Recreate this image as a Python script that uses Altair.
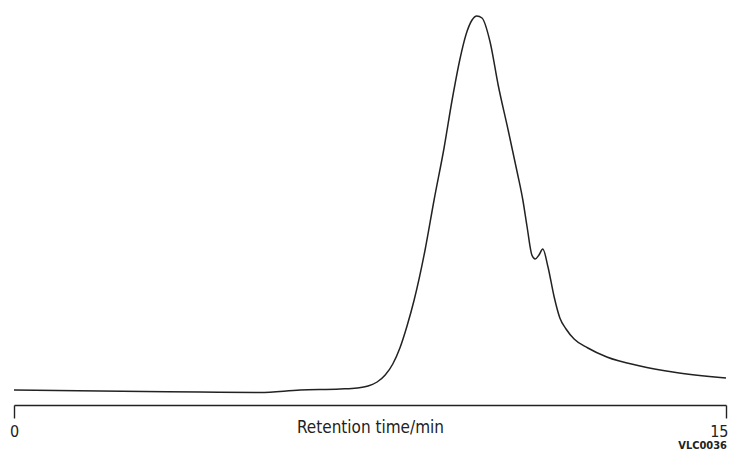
import altair as alt
import pandas as pd

# Retention time (min) and detector signal (arbitrary units)
time_min = [0.0, 1.81, 3.92, 5.18, 6.03, 6.87, 7.23, 7.46, 7.65, 7.82, 7.98, 8.13,
            8.28, 8.43, 8.66, 8.85, 9.06, 9.23, 9.40, 9.52, 9.65, 9.75, 9.86, 10.03,
            10.20, 10.41, 10.60, 10.72, 10.81, 10.91, 10.98, 11.06, 11.14, 11.25,
            11.38, 11.50, 11.63, 11.80, 12.09, 12.49, 13.19, 13.88, 15.0]
signal = [15, 14, 13, 12.5, 15, 16, 17, 19, 23, 30, 41, 57,
          79, 105, 155, 205, 257, 305, 347, 370, 385, 389, 387, 363,
          320, 275, 233, 205, 178, 150, 146, 150, 156, 138,
          108, 87, 76, 66, 57, 48, 39, 33, 27]

x_ticks = [0, 15]
x_title = "Retention time/min"
code_label = "VLC0036"

W, H = 712, 397
FONT = "'DejaVu Sans Condensed', 'Liberation Sans Narrow', Roboto, sans-serif"

df = pd.DataFrame({"t": time_min, "s": signal})

line = alt.Chart(df).mark_line(
    color="#222222", strokeWidth=1.5, interpolate="monotone"
).encode(
    x=alt.X("t:Q", scale=alt.Scale(domain=[0, 15], nice=False, zero=False),
            axis=alt.Axis(values=x_ticks, title=x_title, grid=False,
                          tickSize=13, tickWidth=1.4, tickColor="#222222",
                          domainColor="#222222", domainWidth=1.4,
                          labelFont=FONT, labelFontSize=16, labelColor="#222222",
                          labelPadding=5, labelFlush=False,
                          labelAlign=alt.condition("datum.value == 15",
                                                   alt.value("right"),
                                                   alt.value("center")),
                          labelOffset=alt.condition("datum.value == 15",
                                                    alt.value(2),
                                                    alt.value(0)),
                          titleFont=FONT, titleFontSize=17, titleFontWeight="normal",
                          titleColor="#222222", titleBaseline="alphabetic",
                          titleY=27)),
    y=alt.Y("s:Q", scale=alt.Scale(domain=[0, H], nice=False), axis=None),
)

code = alt.Chart(pd.DataFrame({"c": [code_label]})).mark_text(
    align="right", baseline="alphabetic", font=FONT, fontSize=11,
    fontWeight="bold", color="#222222"
).encode(text="c:N", x=alt.value(W + 1), y=alt.value(H + 44))

chart = (line + code).properties(
    width=W, height=H,
    autosize="none",
    padding={"left": 6, "top": 0, "right": 3, "bottom": 47},
).configure(background="white").configure_view(stroke=None)

chart.save("out.html", embed_options={"renderer": "svg", "actions": False})
